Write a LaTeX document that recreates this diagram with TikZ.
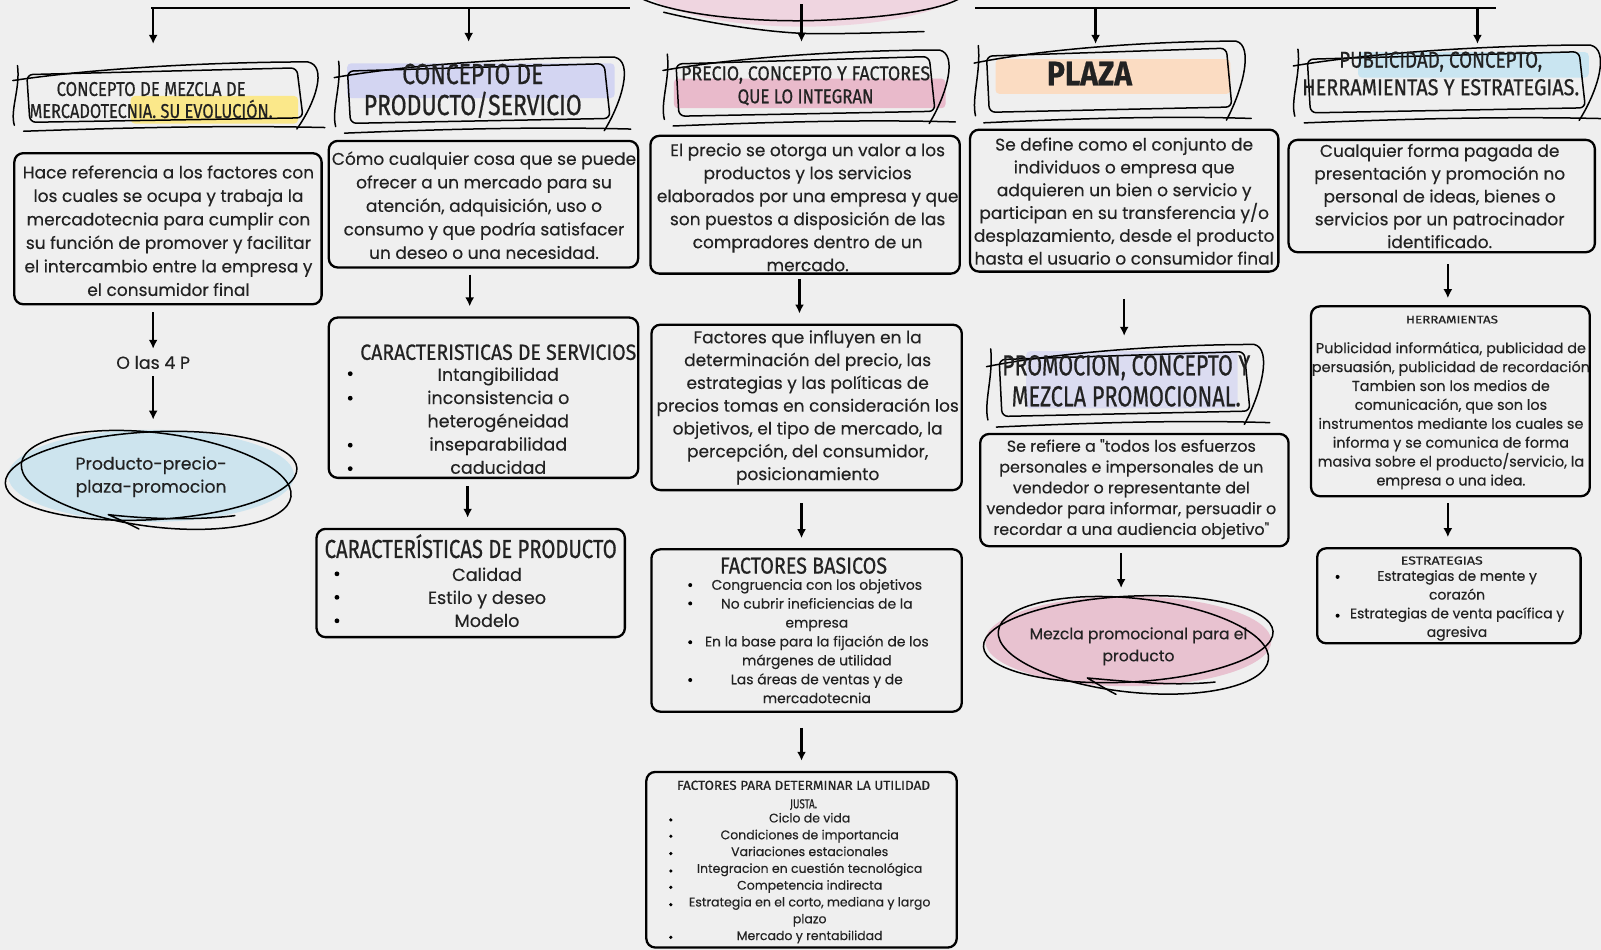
\documentclass[tikz,border=0pt]{standalone}
\usepackage{fontspec}
\usepackage{graphicx}
\setmainfont{Poppins}[FakeBold=0.3,Ligatures=TeXOff]
\newfontfamily\hand{Fira Sans}[FakeBold=0.7]
\usetikzlibrary{arrows.meta,fit,shapes.geometric}
\definecolor{bg}{HTML}{EFEFEF}
\definecolor{hlyellow}{HTML}{FBE88A}
\definecolor{hllav}{HTML}{D3D5F2}
\definecolor{hlpink}{HTML}{E9BACB}
\definecolor{hlpeach}{HTML}{FBDCC2}
\definecolor{hlblue}{HTML}{C9E5F1}
\definecolor{elblue}{HTML}{CDE4EE}
\definecolor{elpink}{HTML}{E8C2D0}
\definecolor{toppink}{HTML}{EFD5E0}
\definecolor{txt}{HTML}{222222}
\newcommand\tline[2]{\resizebox{#1pt}{\height}{#2}}
\newcommand\skframe[4]{%
  \begin{scope}[shift={(#1,#2)},x={({(#3-#1)*1.021pt},0pt)},y={(0pt,{-(#4-#2)*1.021pt})}]
    \draw[sk,rounded corners=6pt] (0.06,0.22) -- (0.93,0.13) -- (0.95,0.80) -- (0.07,0.86) -- cycle;
    \draw[sk] (0.015,0.30) .. controls (0.3,0.12) and (0.7,0.05) .. (0.965,0.05)
              .. controls (1.03,0.1) and (0.99,0.6) .. (0.93,0.95);
    \draw[sk] (0.03,0.10) .. controls (0.04,0.4) and (0.005,0.7) .. (0.02,0.90);
    \draw[sk] (0.05,0.98) .. controls (0.4,0.93) and (0.7,0.9) .. (1.02,0.93);
  \end{scope}}
\begin{document}
\begin{tikzpicture}[x=1.021pt,y=-1.021pt,
  box/.style={draw=black,line width=2.3pt,rounded corners=9pt,inner sep=0pt},
  arr/.style={line width=2.3pt,-{Latex[length=9pt,width=9pt]}},
  ln/.style={line width=2.3pt},
  sk/.style={line width=1.5pt,line cap=round,line join=round},
  body/.style={align=center,inner sep=0pt,text=txt,font=\fontsize{17}{23.5}\selectfont},
  small/.style={align=center,inner sep=0pt,text=txt,font=\fontsize{13.9}{18.9}\selectfont},
  tiny/.style={align=center,inner sep=0pt,text=txt,font=\fontsize{12.5}{16.8}\selectfont},
  ttl/.style={align=center,inner sep=0pt,text=txt},
  bul/.style={fill=black}]
\clip (0,0) rectangle (1568,930);
\fill[bg] (0,0) rectangle (1568,930);

% ---------- top ----------
\node[ellipse,fill=toppink,minimum width=330pt,minimum height=90pt,inner sep=0pt] (top) at (787,-18) {};
\draw[sk] (625,-3) .. controls (660,15) and (740,22) .. (800,20) .. controls (880,17) and (930,8) .. (945,-5);
\draw[sk] (650,12) .. controls (700,24) and (760,33) .. (800,33) .. controls (850,33) and (890,31) .. (905,31);
\draw[ln] (148,8) -- (617,8);
\draw[ln] (955,8) -- (1465,8);
\coordinate (k1) at (150,8);   \coordinate (k1e) at (150,43);
\coordinate (k2) at (459,8);   \coordinate (k2e) at (459,41);
\coordinate (k3) at (785,4);   \coordinate (k3e) at (785,41);
\coordinate (k4) at (1073,8);  \coordinate (k4e) at (1073,43);
\coordinate (k5) at (1447,8);  \coordinate (k5e) at (1447,43);
\foreach \a in {1,...,5} {\draw[arr] (k\a) -- (k\a e);}

% ---------- column 1 ----------
\fill[hlyellow,rounded corners=4pt] (128,94) rectangle (292,121);
\skframe{8}{57}{312}{130}
\node[ttl,font=\hand\fontsize{20}{22}\selectfont] (t1) at (148,98)
  {\tline{189}{CONCEPTO DE MEZCLA DE}\\\tline{243}{MERCADOTECNIA. SU EVOLUCIÓN.}};
\node[box,fit={(14,150) (315,298)}] (b1) {};
\node[body] (b1t) at (165,226) {Hace referencia a los factores con\\los cuales se ocupa y trabaja la\\mercadotecnia para cumplir con\\su función de promover y facilitar\\el intercambio entre la empresa y\\el consumidor final};
\node[body,font=\fontsize{17.4}{20}\selectfont] (p4) at (150,355) {O las 4 P};
\node[ellipse,fill=elblue,minimum width=286pt,minimum height=92pt,inner sep=0pt] (e1) at (148,466) {};
\node[body,font=\fontsize{17.2}{23}\selectfont] (e1t) at (148,467) {Producto-precio-\\plaza-promocion};
\draw[sk] (148,466) ellipse [x radius=143, y radius=43, rotate=3];
\draw[sk] (153,470) ellipse [x radius=133, y radius=46, rotate=-7];
\draw[sk] (230,505) .. controls (190,510) and (140,508) .. (106,504) .. controls (120,510) and (130,515) .. (136,518);
\coordinate (x1) at (150,0);
\draw[arr,shorten <=7pt,shorten >=7pt] (b1.south -| x1) -- (p4.north -| x1);
\draw[arr,shorten <=7pt,shorten >=10pt] (p4.south -| x1) -- (e1.north -| x1);

% ---------- column 2 ----------
\fill[hllav,rounded corners=4pt] (340,62) rectangle (602,96);
\skframe{323}{52}{612}{132}
\node[ttl,font=\hand\fontsize{29}{31}\selectfont] (t2) at (463,89)
  {\tline{141}{CONCEPTO DE}\\\tline{218}{PRODUCTO/SERVICIO}};
\node[box,fit={(322,138) (625,262)}] (b2) {};
\node[body] (b2t) at (474,201) {Cómo cualquier cosa que se puede\\ofrecer a un mercado para su\\atención, adquisición, uso o\\consumo y que podría satisfacer\\un deseo o una necesidad.};
\node[box,fit={(322,311) (625,468)}] (b3) {};
\node[ttl,font=\hand\fontsize{22}{24}\selectfont] (t7) at (488,345) {\tline{276}{CARACTERISTICAS DE SERVICIOS}};
\node[body,font=\fontsize{17.5}{23.25}\selectfont] (b3t) at (488,412) {Intangibilidad\\inconsistencia o\\heterogéneidad\\inseparabilidad\\caducidad};
\foreach \y in {366,390,436,459} {\fill[bul] (343,\y) circle (2.4pt);}
\node[box,fit={(310,518) (612,624)}] (b4) {};
\node[ttl,font=\hand\fontsize{26}{28}\selectfont] (t8) at (461,535) {\tline{292}{CARACTERÍSTICAS DE PRODUCTO}};
\node[body,font=\fontsize{17.6}{23}\selectfont] (b4t) at (477,585) {Calidad\\Estilo y deseo\\Modelo};
\foreach \y in {562,585,608} {\fill[bul] (330,\y) circle (2.4pt);}
\coordinate (x2) at (460,0);
\coordinate (x2b) at (458,0);
\draw[arr,shorten <=6pt,shorten >=10pt] (b2.south -| x2) -- (b3.north -| x2);
\draw[arr,shorten <=7pt,shorten >=10pt] (b3.south -| x2b) -- (b4.north -| x2b);

% ---------- column 3 ----------
\fill[hlpink,rounded corners=4pt] (660,77) rectangle (926,106);
\skframe{645}{45}{930}{125}
\node[ttl,font=\hand\fontsize{20}{23}\selectfont] (t3) at (789,84)
  {\tline{249}{PRECIO, CONCEPTO Y FACTORES}\\\tline{136}{QUE LO INTEGRAN}};
\node[box,fit={(637,133) (940,268)}] (b5) {};
\node[body,font=\fontsize{17}{23}\selectfont] (b5t) at (791,203) {El precio se otorga un valor a los\\productos y los servicios\\elaborados por una empresa y que\\son puestos a disposición de las\\compradores dentro de un\\mercado.};
\node[box,fit={(638,318) (942,480)}] (b6) {};
\node[body,font=\fontsize{17}{22.8}\selectfont] (b6t) at (791,399) {Factores que influyen en la\\determinación del precio, las\\estrategias y las políticas de\\precios tomas en consideración los\\objetivos, el tipo de mercado, la\\percepción, del consumidor,\\posicionamiento};
\node[box,fit={(638,538) (942,697)}] (b7) {};
\node[ttl,font=\hand\fontsize{23}{25}\selectfont] (t9) at (787,554) {\tline{167}{FACTORES BASICOS}};
\node[small] (b7t) at (800,628) {Congruencia con los objetivos\\No cubrir ineficiencias de la\\empresa\\En la base para la fijación de los\\márgenes de utilidad\\Las áreas de ventas y de\\mercadotecnia};
\foreach \y in {573,591,629,666} {\fill[bul] (676,\y) circle (2pt);}
\node[box,fit={(633,756) (937,928)}] (b8) {};
\node[ttl,font=\hand\fontsize{13}{18.5}\selectfont] (t10) at (787,779)
  {\tline{253}{FACTORES PARA DETERMINAR LA UTILIDAD}\\\tline{27}{JUSTA.}};
\node[tiny] (b8t) at (793,860) {Ciclo de vida\\Condiciones de importancia\\Variaciones estacionales\\Integracion en cuestión tecnológica\\Competencia indirecta\\Estrategia en el corto, mediana y largo\\plazo\\Mercado y rentabilidad};
\foreach \y in {803,819,836,853,869,886,918} {\fill[bul] (657,\y) circle (1.8pt);}
\coordinate (x3a) at (783,0);
\coordinate (x3) at (785,0);
\draw[arr,shorten <=4pt,shorten >=10pt] (b5.south -| x3a) -- (b6.north -| x3a);
\draw[arr,shorten <=12pt,shorten >=10pt] (b6.south -| x3) -- (b7.north -| x3);
\draw[arr,shorten <=15pt,shorten >=10pt] (b7.south -| x3) -- (b8.north -| x3);

% ---------- column 4 ----------
\fill[hlpeach,rounded corners=4pt] (975,58) rectangle (1205,92);
\skframe{950}{36}{1220}{122}
\node[ttl,font=\hand\bfseries\fontsize{34}{36}\selectfont] (t4) at (1067,72) {\tline{85}{PLAZA}};
\node[box,fit={(950,127) (1252,266)}] (b9) {};
\node[body,font=\fontsize{17}{22.8}\selectfont] (b9t) at (1101,197) {Se define como el conjunto de\\individuos o empresa que\\adquieren un bien o servicio y\\participan en su transferencia y/o\\desplazamiento, desde el producto\\hasta el usuario o consumidor final};
\fill[hllav,opacity=0.7,rounded corners=4pt] (1005,344) rectangle (1212,400);
\skframe{962}{333}{1238}{420}
\node[ttl,font=\hand\fontsize{29}{31}\selectfont] (t5) at (1103,373)
  {\tline{248}{PROMOCION, CONCEPTO Y}\\\tline{229}{MEZCLA PROMOCIONAL.}};
\node[box,fit={(960,425) (1262,535)}] (b10) {};
\node[body,font=\fontsize{15.9}{20.8}\selectfont] (b10t) at (1108,479) {Se refiere a "todos los esfuerzos\\personales e impersonales de un\\vendedor o representante del\\vendedor para informar, persuadir o\\recordar a una audiencia objetivo"};
\node[ellipse,fill=elpink,minimum width=286pt,minimum height=90pt,inner sep=0pt] (e2) at (1105,628) {};
\node[body,font=\fontsize{15.6}{22}\selectfont] (e2t) at (1115,633) {Mezcla promocional para el\\producto};
\draw[sk] (1105,626) ellipse [x radius=142, y radius=42, rotate=3];
\draw[sk] (1110,632) ellipse [x radius=133, y radius=46, rotate=-6];
\draw[sk] (1190,668) .. controls (1150,672) and (1110,668) .. (1065,664) .. controls (1075,670) and (1085,676) .. (1093,680);
\coordinate (x4) at (1101,0);
\coordinate (x4b) at (1098,0);
\draw[arr,shorten <=26pt,shorten >=19pt] (b9.south -| x4) -- (t5.north -| x4);
\draw[arr,shorten <=6pt,shorten >=8pt] (b10.south -| x4b) -- (e2.north -| x4b);

% ---------- column 5 ----------
\fill[hlblue,rounded corners=4pt] (1330,51) rectangle (1556,76);
\skframe{1262}{40}{1568}{122}
\node[ttl,font=\hand\fontsize{23}{27.5}\selectfont] (t6) at (1411,72)
  {\tline{203}{PUBLICIDAD, CONCEPTO,}\\\tline{277}{HERRAMIENTAS Y ESTRATEGIAS.}};
\node[box,fit={(1262,137) (1562,247)}] (b11) {};
\node[body,font=\fontsize{17}{22.8}\selectfont] (b11t) at (1410,192) {Cualquier forma pagada de\\presentación y promoción no\\personal de ideas, bienes o\\servicios por un patrocinador\\identificado.};
\node[box,fit={(1284,300) (1557,486)}] (b12) {};
\node[ttl,font=\hand\fontsize{11}{13}\selectfont] (t11) at (1422,313) {\tline{92}{HERRAMIENTAS}};
\node[small,font=\fontsize{14.4}{18.9}\selectfont] (b12t) at (1421,407) {Publicidad informática, publicidad de\\persuasión, publicidad de recordación\\Tambien son los medios de\\comunicación, que son los\\instrumentos mediante los cuales se\\informa y se comunica de forma\\masiva sobre el producto/servicio, la\\empresa o una idea.};
\node[box,fit={(1290,537) (1548,630)}] (b13) {};
\node[ttl,font=\hand\fontsize{11.5}{13}\selectfont] (t12) at (1412,549) {\tline{82}{ESTRATEGIAS}};
\node[small,font=\fontsize{13.9}{18.7}\selectfont] (b13t) at (1427,593) {Estrategias de mente y\\corazón\\Estrategias de venta pacífica y\\agresiva};
\foreach \y in {565,603} {\fill[bul] (1310,\y) circle (2pt);}
\coordinate (x5) at (1418,0);
\draw[arr,shorten <=11pt,shorten >=7pt] (b11.south -| x5) -- (b12.north -| x5);
\draw[arr,shorten <=6pt,shorten >=10pt] (b12.south -| x5) -- (b13.north -| x5);
\end{tikzpicture}
\end{document}
